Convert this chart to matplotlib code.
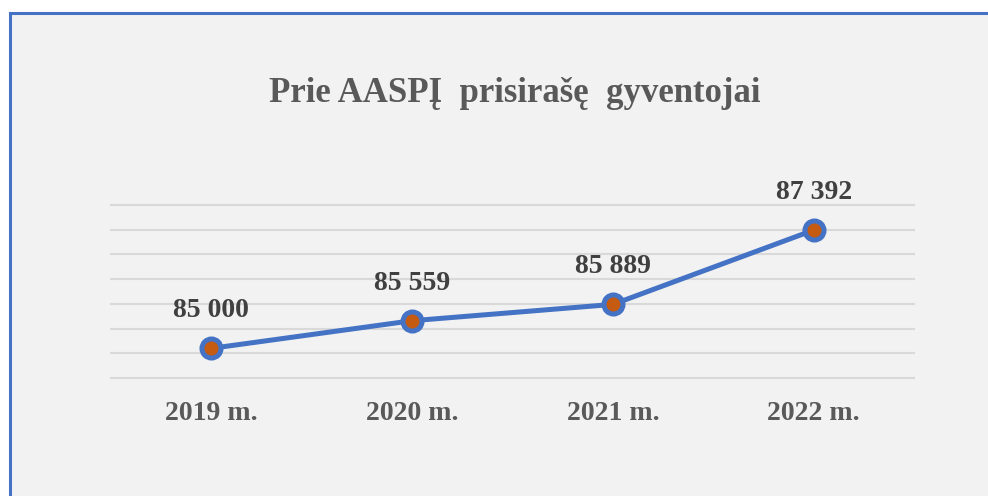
import matplotlib
matplotlib.use("Agg")
import numpy as np
import matplotlib.pyplot as plt
from matplotlib.patches import Rectangle

years = ['2019 m.', '2020 m.', '2021 m.', '2022 m.']
residents = [85000, 85559, 85889, 87392]
labels = ['85 000', '85 559', '85 889', '87 392']
title = 'Prie AASPĮ  prisirašę  gyventojai'

plt.rcParams['font.family'] = ['Liberation Serif', 'DejaVu Serif']

fig = plt.figure(figsize=(9.88, 4.96), dpi=100)
fig.patch.set_facecolor('white')
# grey chart area with blue frame on top / left
fig.patches.append(Rectangle((10 / 988, -0.1), 1.2, (496 - 13) / 496 + 0.1,
                             transform=fig.transFigure, facecolor='#F2F2F2',
                             edgecolor='#4472C4', linewidth=2.2, zorder=-5))

ax = fig.add_axes([111 / 988, 118 / 496, 803 / 988, 173 / 496])
ax.set_facecolor('none')
x = np.arange(len(years))
ax.plot(x, residents, color='#4472C4', linewidth=3.6, marker='o',
        markersize=13.7, markerfacecolor='#C55A11', markeredgecolor='#4472C4',
        markeredgewidth=3.6, zorder=3, clip_on=False)

for xi, v, lab in zip(x, residents, labels):
    ax.annotate(lab, (xi, v), xytext=(0, 27), textcoords='offset points',
                ha='center', va='center', fontsize=20, fontweight='bold',
                color='#404040')

ax.set_xlim(-0.5, 3.5)
ax.set_ylim(84400, 87900)
ax.set_yticks(np.arange(84400, 87901, 500))
ax.grid(axis='y', color='#D9D9D9', linewidth=1.5)
for gl in ax.get_ygridlines():
    gl.set_clip_on(False)
ax.set_axisbelow(True)
ax.tick_params(axis='y', left=False, labelleft=False)
ax.tick_params(axis='x', bottom=False, pad=13)
ax.set_xticks(x)
ax.set_xticklabels(years, fontsize=20, fontweight='bold', color='#595959')
for s in ax.spines.values():
    s.set_visible(False)

fig.text(515 / 988, 1 - 93 / 496, title, ha='center', va='center',
         fontsize=25, fontweight='bold', color='#595959')

fig.savefig('out.png', dpi=100)
